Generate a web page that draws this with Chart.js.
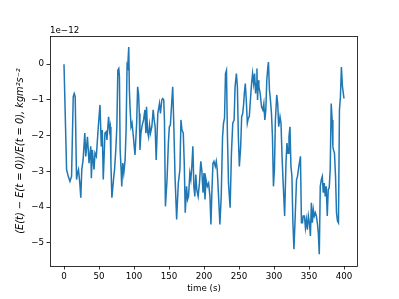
<!DOCTYPE html>
<html>
<head>
<meta charset="utf-8">
<script src="https://cdn.jsdelivr.net/npm/chart.js@4/dist/chart.umd.min.js"></script>
<style>
  body { margin: 0; background: #fff; }
</style>
</head>
<body>
<canvas id="energyChart" width="399" height="299"></canvas>
<script>
// time (s)
const times = [
  0, 3.7, 6.1, 8.5, 10.8, 13.2, 14.6, 16, 17.9, 19.3, 20.7, 22.6, 24, 25.4, 27.3, 29.7,
  31.1, 33.5, 35.8, 38.2, 39.1, 40.5, 42.9, 44.3, 46.2, 49, 51.4, 53.3, 54.7, 56.1, 58.5, 60.4,
  61.3, 63.7, 65.1, 66, 67, 68.4, 70.7, 72.2, 74, 75.5, 76.9, 78.3, 79.2, 80.2, 81.6, 82.5,
  83.9, 85.4, 87.3, 88.7, 90.1, 91, 92.5, 93.4, 94.3, 95.8, 97.2, 99.1, 101.4, 102.8, 103.8,
  105.2, 106.6, 107.6, 108.5, 109.9, 111.8, 113.7, 115.6, 117, 117.9, 119.4, 120.8, 122.2,
  123.6, 125.5, 127.4, 128.8, 130.2, 131.7, 134, 136.4, 137.8, 139.7, 141.1, 142.5, 143.5,
  144.9, 147.2, 149.1, 150.5, 152, 153.8, 155.3, 156.7, 158.6, 160.9, 163.3, 165.6, 167.1,
  168.5, 170.4, 171.8, 173.2, 175.1, 176.5, 177.9, 179.8, 181.2, 182.6, 184.1, 185.5, 186.9,
  188.3, 189.7, 191.6, 193.5, 195.4, 196.8, 198.6, 200, 201.4, 202.9, 204.8, 206.6, 208.5,
  209.9, 211.4, 212.8, 214.2, 216.1, 217.5, 218.9, 220.8, 222.7, 224.6, 226.5, 227.9, 229.3,
  230.7, 232.1, 233.5, 235, 237.3, 239.2, 241.1, 243, 244.4, 246.3, 247.7, 249.1, 250.5,
  252.4, 253.8, 255.3, 256.7, 257.6, 259, 260.4, 261.9, 263.3, 264.7, 266.6, 268, 269.4,
  270.9, 272.3, 273.7, 274.6, 275.6, 276.5, 277.5, 278.4, 280.3, 282.2, 284.1, 285.5, 286.9,
  288.3, 289.7, 291.2, 292.1, 293.5, 294.9, 296.4, 297.8, 299.2, 300.6, 302, 303.9, 305.3,
  306.7, 308.6, 310, 311.5, 313.3, 315.2, 317.1, 318.5, 320, 321.4, 322.8, 324.2, 325.6, 327,
  328.5, 330.3, 332.2, 333.6, 335.5, 337.8, 339.2, 340.7, 341.6, 343.5, 344.9, 346.3, 347.7,
  349.1, 350.6, 352, 353.4, 354.8, 356.2, 357.6, 359.1, 360.5, 361.9, 363.3, 364.7, 366.1,
  367.6, 369, 370.4, 371.8, 373.2, 374.6, 376.1, 377.5, 378.9, 380.3, 381.7, 383.1, 384.1,
  385, 386.4, 387.9, 389.3, 390.7, 392.1, 393.5, 394.9, 396.3, 397.8, 400
];

// (E(t) - E(0))/E(0), in units of 1e-12
const energyDrift = [
  0, -2.95, -3.14, -3.28, -3.14, -0.91, -0.82, -0.91, -3.23, -3.05, -2.95, -3.33, -3.74, -2.95, -2.68, -1.93,
  -2.58, -2.03, -2.77, -2.3, -3.19, -2.4, -2.95, -2.49, -2.58, -1.75, -1.14, -2.3, -1.84, -3.23, -1.93, -1.89,
  -2.12, -1.47, -1.84, -1.75, -2.77, -3.74, -3.23, -2.95, -2.4, -1.75, -0.17, -0.12, -0.35, -2.4, -2.95, -3.42,
  -2.77, -3.05, -2.68, -1.84, -0.03, -0.08, 0.48, -0.73, -1.19, -1.75, -1.65, -2.03, -2.54, -2.03, -1.65,
  -0.63, -0.86, -1.38, -2.4, -1.93, -1.7, -1.56, -1.28, -1.93, -1.19, -1.89, -2.03, -1.7,
  -1.93, -1.75, -1.28, -1.56, -1.75, -2.68, -1.38, -1.1, -1.38, -1.0, -0.96, -1.0, -1.56,
  -3.98, -3.23, -2.21, -1.75, -1.7, -1.1, -0.63, -1.56, -3.14, -4.35, -3.33, -2.95, -1.56,
  -1.84, -1.93, -2.77, -4.16, -3.42, -3.79, -3.7, -3.05, -3.23, -2.86, -2.3, -3.42, -3.7,
  -3.09, -3.51, -3.7, -3.33, -2.72, -2.95, -3.6, -3.05, -3.79, -3.23, -3.42, -3.33, -3.7,
  -4.49, -3.51, -2.77, -2.72, -2.86, -2.72, -2.95, -3.7, -4.49, -3.7, -2.03, -1.65, -1.51,
  -0.26, -0.17, -2.03, -3.33, -4.02, -2.49, -1.65, -1.56, -0.63, -0.26, -0.63, -2.03, -2.86,
  -2.3, -1.47, -1.38, -1.1, -0.82, -0.54, -1.0, -1.65, -1.51, -1.47, -0.91, -0.54, -0.26,
  -0.54, -0.26, -0.82, -0.54, -0.12, -1.0, -0.45, -0.63, -0.82, -1.19, -1.28, -1.1, -1.56,
  -1.28, -0.45, -0.08, 0.06, -0.73, -1.0, -1.38, -2.03, -3.42, -2.95, -1.56, -0.86, -1.1,
  -1.75, -1.47, -1.65, -2.58, -3.42, -4.25, -2.77, -2.21, -2.49, -2.03, -1.75, -2.86, -3.14, -4.44,
  -5.18, -4.25, -3.23, -3.14, -2.86, -2.58, -4.44, -4.44, -4.25, -4.25, -4.58, -4.35, -4.63,
  -4.25, -4.44, -4.81, -3.88, -4.44, -4.07, -4.25, -4.16, -4.25, -4.44, -4.72, -5.32, -3.42,
  -3.23, -3.14, -3.6, -3.33, -3.7, -3.42, -4.25, -3.51, -3.46, -2.95, -1.1, -1.56, -2.3,
  -2.4, -2.49, -3.14, -4.16, -4.39, -4.44, -1.28, -0.91, -0.08, -0.63, -0.96
];

const xTicks = [0, 50, 100, 150, 200, 250, 300, 350, 400];
const yTicks = [-5, -4, -3, -2, -1, 0];

const tickFont = { family: '"DejaVu Sans", sans-serif', size: 8.7 };
const minus = v => String(v).replace('-', '\u2212');

// box around the axes plus the matplotlib style offset text
const frame = {
  id: 'frame',
  afterDraw(chart) {
    const { ctx, chartArea: a } = chart;
    ctx.save();
    ctx.strokeStyle = '#000';
    ctx.lineWidth = 0.8;
    ctx.strokeRect(a.left + 0.5, a.top + 0.5, a.right - a.left - 1, a.bottom - a.top);
    ctx.fillStyle = '#000';
    ctx.font = '8.7px "DejaVu Sans", sans-serif';
    ctx.textBaseline = 'alphabetic';
    ctx.fillText('1e\u221212', a.left, a.top - 3);
    ctx.restore();
  }
};

new Chart(document.getElementById('energyChart').getContext('2d'), {
  type: 'line',
  data: {
    datasets: [{
      data: times.map((t, i) => ({ x: t, y: energyDrift[i] })),
      borderColor: '#1f77b4',
      borderWidth: 1.5,
      pointRadius: 0,
      tension: 0,
      fill: false
    }]
  },
  options: {
    responsive: false,
    animation: false,
    layout: { padding: { left: 0, right: 41, top: 36, bottom: 0 } },
    plugins: { legend: { display: false }, tooltip: { enabled: false } },
    scales: {
      x: {
        type: 'linear',
        min: -20,
        max: 420,
        afterBuildTicks: s => { s.ticks = xTicks.map(v => ({ value: v })); },
        afterFit: s => { s.height = 33; },
        grid: { drawOnChartArea: false, tickLength: 3.5, tickColor: '#000', tickWidth: 0.8 },
        border: { display: false },
        ticks: { color: '#000', font: tickFont, padding: 2, maxRotation: 0, callback: v => minus(v) },
        title: { display: true, text: 'time (s)', color: '#000', font: tickFont, padding: { top: 0, bottom: 5 } }
      },
      y: {
        min: -5.65,
        max: 0.79,
        afterBuildTicks: s => { s.ticks = yTicks.map(v => ({ value: v })); },
        afterFit: s => { s.width = 50; },
        grid: { drawOnChartArea: false, tickLength: 3.5, tickColor: '#000', tickWidth: 0.8 },
        border: { display: false },
        ticks: { color: '#000', font: tickFont, padding: 2.5, callback: v => minus(v) },
        title: {
          display: true,
          text: '(E(t) \u2212 E(t = 0))/E(t = 0), kgm\u00b2s\u207b\u00b2',
          color: '#000',
          font: { family: '"DejaVu Sans", sans-serif', size: 9.8, style: 'italic' },
          padding: { top: 15, bottom: 0 }
        }
      }
    }
  },
  plugins: [frame]
});
</script>
</body>
</html>
